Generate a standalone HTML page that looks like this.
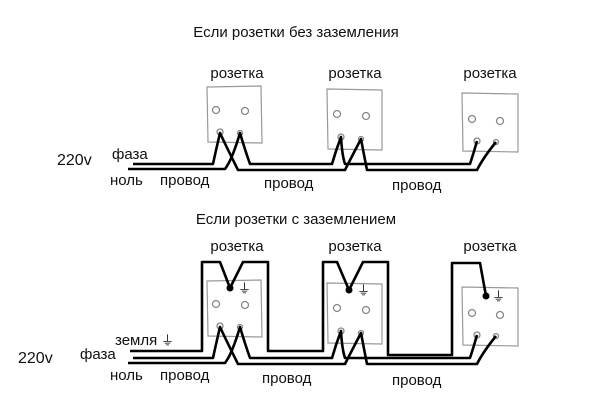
<!DOCTYPE html>
<html><head><meta charset="utf-8"><style>
html,body{margin:0;padding:0;background:#fff;}
svg{display:block;}
text{font-family:"Liberation Sans",sans-serif;fill:#111;}
</style></head><body>
<svg width="600" height="418" viewBox="0 0 600 418" xmlns="http://www.w3.org/2000/svg">
<defs>
<g id="sockets" fill="none">
  <path d="M207,87 L261,86 L262,143 L208,142 Z" stroke="#999" stroke-width="1.2"/>
  <path d="M327,89 L382,90 L382,150 L328,149 Z" stroke="#999" stroke-width="1.2"/>
  <path d="M462,93 L518,94 L518,152 L463,151 Z" stroke="#999" stroke-width="1.2"/>
  <g stroke="#888" stroke-width="1.3">
    <circle cx="216" cy="110" r="3.5"/><circle cx="245" cy="111" r="3.5"/>
    <circle cx="337" cy="114" r="3.5"/><circle cx="366" cy="116" r="3.5"/>
    <circle cx="472" cy="119" r="3.5"/><circle cx="500" cy="121" r="3.5"/>
    <circle cx="220" cy="132" r="3"/><circle cx="240" cy="133" r="2.5"/>
    <circle cx="341" cy="137" r="3"/><circle cx="361" cy="139" r="2.5"/>
    <circle cx="477" cy="141" r="3"/><circle cx="496" cy="142" r="2.5"/>
  </g>
  <g stroke="#000" stroke-width="2.6" stroke-linejoin="round">
    <path d="M133,164 L213,164 Q216,150 220,133 Q228,150 238,170 L345,170 Q350,160 361,139 Q364,155 367,170 L477,170 Q483,158 496,142"/>
    <path d="M128,169 L225,169 Q232,160 240,133 Q245,150 250,164 L332,164 Q336,150 341,137 Q342,155 345,164 L470,164 Q474,152 477,141"/>
  </g>
</g>
</defs>
<text x="296" y="37" font-size="15" text-anchor="middle">Если розетки без заземления</text>
<text x="237" y="78" font-size="15" text-anchor="middle">розетка</text>
<text x="355" y="78" font-size="15" text-anchor="middle">розетка</text>
<text x="490" y="78" font-size="15" text-anchor="middle">розетка</text>
<use href="#sockets"/>
<text x="57" y="165" font-size="16">220v</text>
<text x="112" y="159" font-size="15">фаза</text>
<text x="110" y="185" font-size="15">ноль</text>
<text x="160" y="185" font-size="15">провод</text>
<text x="264" y="188" font-size="15">провод</text>
<text x="392" y="190" font-size="15">провод</text>

<text x="296" y="224" font-size="15" text-anchor="middle">Если розетки с заземлением</text>
<text x="237" y="251" font-size="15" text-anchor="middle">розетка</text>
<text x="355" y="251" font-size="15" text-anchor="middle">розетка</text>
<text x="490" y="251" font-size="15" text-anchor="middle">розетка</text>
<g transform="translate(0,194)"><use href="#sockets"/></g>
<path d="M130,351 L202,351 L202,262 L220,262 L230,288 L243,262 L268,262 L268,351 L323,351 L323,262 L337,262 L349,290 L363,262 L388,262 L388,355 L452,355 L452,263 L480,263 L486,296" fill="none" stroke="#000" stroke-width="2.6" stroke-linejoin="round"/>
<circle cx="230" cy="288" r="3.5" fill="#000"/>
<circle cx="349" cy="290" r="3.5" fill="#000"/>
<circle cx="486" cy="296" r="3.5" fill="#000"/>
<g font-size="13"><text x="238" y="293">⏚</text><text x="357" y="295">⏚</text><text x="492" y="301">⏚</text><text x="161" y="345">⏚</text></g>
<text x="115" y="345" font-size="15">земля</text>
<text x="18" y="363" font-size="16">220v</text>
<text x="80" y="359" font-size="15">фаза</text>
<text x="110" y="380" font-size="15">ноль</text>
<text x="160" y="380" font-size="15">провод</text>
<text x="262" y="383" font-size="15">провод</text>
<text x="392" y="385" font-size="15">провод</text>
</svg>
</body></html>
